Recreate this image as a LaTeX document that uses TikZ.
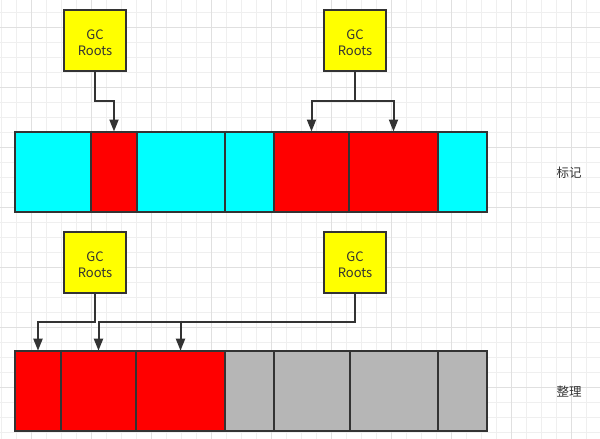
\documentclass[tikz,border=0pt]{standalone}
\usepackage{fontspec}
\setmainfont{Noto Sans CJK SC}
\usepackage{tikz}
\usetikzlibrary{arrows.meta, calc}
\definecolor{edge}{HTML}{333333}
\definecolor{marked}{HTML}{FF0000}
\definecolor{unmarked}{HTML}{00FFFF}
\definecolor{free}{HTML}{B6B6B6}
\definecolor{rootfill}{HTML}{FFFF00}
\definecolor{minorgrid}{HTML}{EFEFEF}
\definecolor{majorgrid}{HTML}{E0E0E0}

\begin{document}
\begin{tikzpicture}[x=1pt,y=-1pt]
      \tikzset{cell/.style={draw=edge, line width=2pt, minimum height=80pt,
          inner sep=0pt, outer sep=0pt},
        root/.style={draw=edge, fill=rootfill, line width=2pt,
          minimum width=62pt, minimum height=61pt, inner sep=0pt,
          outer sep=0pt, align=center, text=edge, text height=29pt, text depth=0pt,
          font=\fontsize{13}{16}\selectfont},
        ref/.style={draw=edge, line width=2pt,
          -{Triangle[length=12pt,width=9pt]}},
        phase/.style={text=edge, font=\fontsize{12.5}{15}\selectfont}
      }
      \useasboundingbox (0,0) rectangle (600,439);
      \fill[white] (0,0) rectangle (600,439);
      % grid
      \foreach \x in {1.3,16.3,...,600} \draw[minorgrid, line width=1pt] (\x,0) -- (\x,439);
      \foreach \y in {12.3,27.3,...,439} \draw[minorgrid, line width=1pt] (0,\y) -- (600,\y);
      \foreach \x in {31.3,91.3,...,600} \draw[majorgrid, line width=1pt] (\x,0) -- (\x,439);
      \foreach \y in {27.3,87.3,...,439} \draw[majorgrid, line width=1pt] (0,\y) -- (600,\y);

      \node [root] (gc1) at (95,40.5) {GC\\Roots};
      \node [root] (gc2) at (355,40.5) {GC\\Roots};
      \node [root] (gc3) at (95,262.5) {GC\\Roots};
      \node [root] (gc4) at (355,262.5) {GC\\Roots};

      \foreach \l/\r/\c [count=\i] in {15/91/unmarked, 91/137/marked, 137/225/unmarked,
          225/274/unmarked, 274/349/marked, 349/438/marked, 438/487/unmarked}
        \node [cell, fill=\c, minimum width=\r-\l] (t\i) at ({(\l+\r)/2},171.5) {};
      \foreach \l/\r/\c [count=\i] in {15/61/marked, 61/136/marked, 136/225/marked,
          225/274/free, 274/350/free, 350/438/free, 438/487/free}
        \node [cell, fill=\c, minimum width=\r-\l] (b\i) at ({(\l+\r)/2},390.7) {};

      \draw [ref] (gc1.south) -- ++(0,30) -| (t2.north);
      \draw [ref] (gc2.south) -- ++(0,30) -| (t5.north);
      \draw [ref] (gc2.south) -- ++(0,30) -| (t6.north);
      \draw [ref] (gc3.south) -- ++(0,29) -| (b1.north);
      \draw [ref] (gc4.south) -- ++(0,29) coordinate (j) -| (b2.north);
      \draw [ref] (b3.north |- j) -- (b3.north);

      \node [phase] (mark) at (569,172.7) {标记};
      \node [phase] (compact) at (569,391.7) {整理};
    \end{tikzpicture}
\end{document}
